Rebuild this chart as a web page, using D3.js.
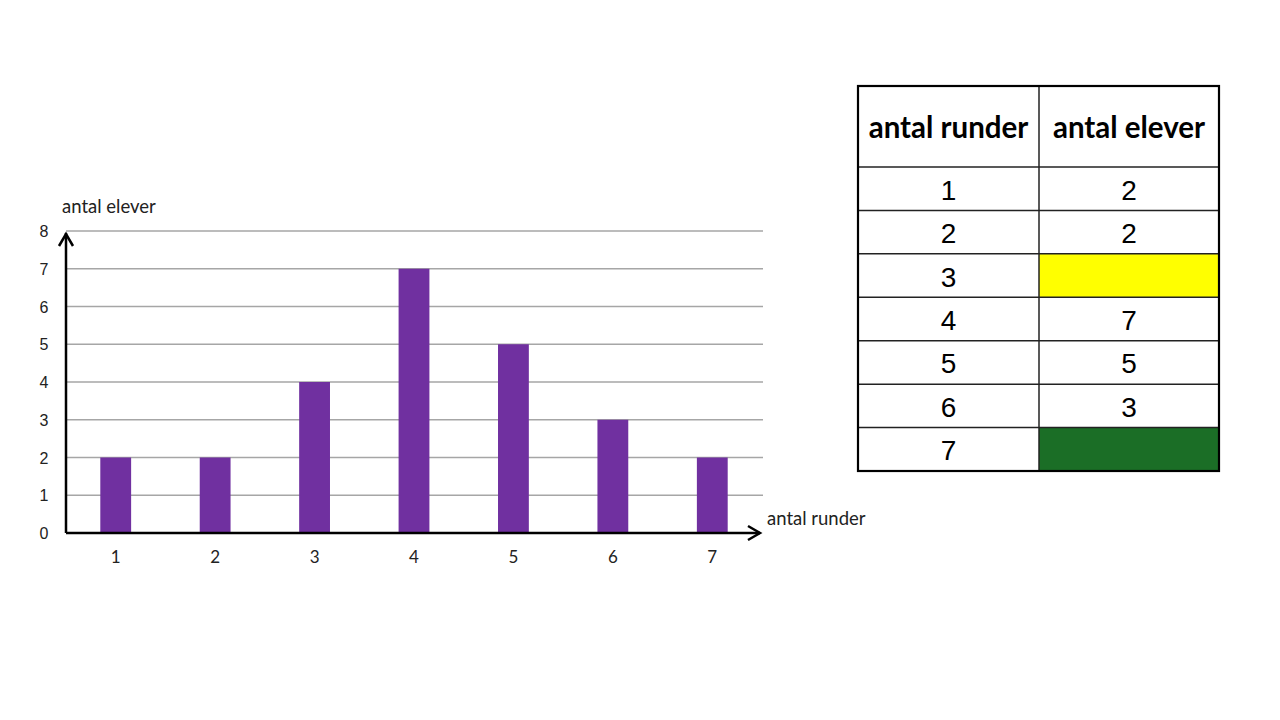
<!DOCTYPE html>
<html>
<head>
<meta charset="utf-8">
<script src="https://cdn.jsdelivr.net/npm/d3@7"></script>
<style>
  body { margin: 0; background: #fff; }
  svg { display: block; }
</style>
</head>
<body>
<svg width="1280" height="720"></svg>
<script>
// chart data
const rounds = [1, 2, 3, 4, 5, 6, 7];
const students = [2, 2, 4, 7, 5, 3, 2];
const yTicks = [0, 1, 2, 3, 4, 5, 6, 7, 8];

// table data (blank cells are coloured instead of numbered)
const tableHeader = ["antal runder", "antal elever"];
const tableStudents = ["2", "2", "", "7", "5", "3", ""];
const tableFills = ["#fff", "#fff", "#ffff00", "#fff", "#fff", "#fff", "#1b6e26"];

const svg = d3.select("svg");

// bar chart
const plotLeft = 66, plotRight = 762, plotTop = 231, plotBottom = 533;

const x = d3.scaleBand()
    .domain(rounds)
    .range([plotLeft, plotRight])
    .paddingInner(0.69)
    .paddingOuter(0.345);

const y = d3.scaleLinear().domain([0, 8]).range([plotBottom, plotTop]);

// gridlines
svg.append("g")
    .selectAll("line")
    .data(yTicks.filter(d => d > 0))
    .enter().append("line")
        .attr("x1", plotLeft)
        .attr("x2", plotRight + 1)
        .attr("y1", d => y(d))
        .attr("y2", d => y(d))
        .attr("stroke", "#a6a6a6")
        .attr("stroke-width", 1.3);

// bars
svg.append("g")
    .selectAll("rect")
    .data(students)
    .enter().append("rect")
        .attr("x", (d, i) => x(rounds[i]))
        .attr("y", d => y(d))
        .attr("width", x.bandwidth())
        .attr("height", d => plotBottom - y(d))
        .style("fill", "#7030a0");

// y tick labels
svg.append("g")
    .selectAll("text")
    .data(yTicks)
    .enter().append("text")
        .attr("x", 44)
        .attr("y", d => y(d) + 6)
        .attr("text-anchor", "middle")
        .attr("font-family", "Liberation Sans, Arial, sans-serif")
        .attr("font-size", 16)
        .attr("fill", "#222")
        .text(d => d);

// x tick labels
svg.append("g")
    .selectAll("text")
    .data(rounds)
    .enter().append("text")
        .attr("x", d => x(d) + x.bandwidth() / 2)
        .attr("y", 563)
        .attr("text-anchor", "middle")
        .attr("font-family", "Lato, sans-serif")
        .attr("font-size", 17)
        .attr("fill", "#222")
        .text(d => d);

// axes with arrows
const axes = svg.append("g")
    .attr("stroke", "#000")
    .attr("stroke-width", 2.5)
    .attr("fill", "none");
axes.append("line").attr("x1", plotLeft).attr("x2", 760).attr("y1", plotBottom).attr("y2", plotBottom);
axes.append("line").attr("x1", plotLeft).attr("x2", plotLeft).attr("y1", plotBottom).attr("y2", 233);
axes.append("path").attr("d", `M${plotLeft - 7},${246} L${plotLeft},${234} L${plotLeft + 7},${246}`);
axes.append("path").attr("d", `M${748},${plotBottom - 7} L${760},${plotBottom} L${748},${plotBottom + 7}`);

// axis titles
svg.append("text")
    .attr("x", 62).attr("y", 213)
    .attr("font-family", "Lato, sans-serif")
    .attr("font-size", 18.5)
    .attr("fill", "#222")
    .text("antal elever");
svg.append("text")
    .attr("x", 767).attr("y", 525)
    .attr("font-family", "Lato, sans-serif")
    .attr("font-size", 18.5)
    .attr("fill", "#222")
    .text("antal runder");

// table
const tLeft = 858, tMid = 1039, tRight = 1219, tTop = 86, headBottom = 167, tBottom = 471;
const rowY = d3.scaleBand().domain(rounds).range([headBottom, tBottom]);
const table = svg.append("g");

// coloured cells
table.selectAll("rect.cell")
    .data(tableFills)
    .enter().append("rect")
        .attr("class", "cell")
        .attr("x", tMid)
        .attr("y", (d, i) => rowY(rounds[i]))
        .attr("width", tRight - tMid)
        .attr("height", rowY.bandwidth())
        .attr("fill", d => d);

// row lines
table.selectAll("line.row")
    .data(rounds)
    .enter().append("line")
        .attr("class", "row")
        .attr("x1", tLeft).attr("x2", tRight)
        .attr("y1", d => rowY(d)).attr("y2", d => rowY(d))
        .attr("stroke", "#222").attr("stroke-width", 1.5);

table.append("line")
    .attr("x1", tMid).attr("x2", tMid)
    .attr("y1", tTop).attr("y2", tBottom)
    .attr("stroke", "#222").attr("stroke-width", 1.5);

table.append("rect")
    .attr("x", tLeft).attr("y", tTop)
    .attr("width", tRight - tLeft).attr("height", tBottom - tTop)
    .attr("fill", "none")
    .attr("stroke", "#000").attr("stroke-width", 2.2);

// header text
table.selectAll("text.head")
    .data(tableHeader)
    .enter().append("text")
        .attr("class", "head")
        .attr("x", (d, i) => i === 0 ? (tLeft + tMid) / 2 : (tMid + tRight) / 2)
        .attr("y", 138)
        .attr("text-anchor", "middle")
        .attr("font-family", "Lato, sans-serif")
        .attr("font-weight", "bold")
        .attr("font-size", 29.5)
        .attr("fill", "#000")
        .text(d => d);

// body text
table.selectAll("text.round")
    .data(rounds)
    .enter().append("text")
        .attr("class", "round")
        .attr("x", (tLeft + tMid) / 2)
        .attr("y", d => rowY(d) + rowY.bandwidth() / 2 + 11)
        .attr("text-anchor", "middle")
        .attr("font-family", "Liberation Sans, Arial, sans-serif")
        .attr("font-size", 28)
        .attr("fill", "#000")
        .text(d => d);

table.selectAll("text.count")
    .data(tableStudents)
    .enter().append("text")
        .attr("class", "count")
        .attr("x", (tMid + tRight) / 2)
        .attr("y", (d, i) => rowY(rounds[i]) + rowY.bandwidth() / 2 + 11)
        .attr("text-anchor", "middle")
        .attr("font-family", "Liberation Sans, Arial, sans-serif")
        .attr("font-size", 28)
        .attr("fill", "#000")
        .text(d => d);
</script>
</body>
</html>
